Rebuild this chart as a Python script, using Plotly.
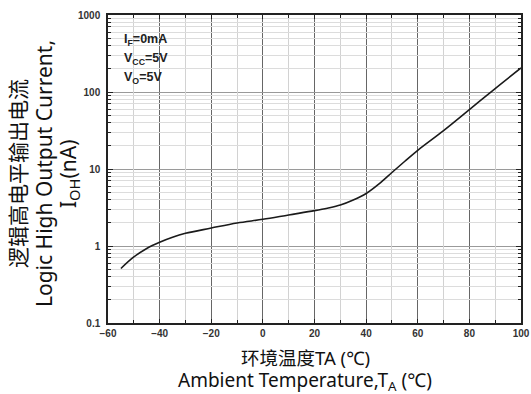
import plotly.graph_objects as go

temps = [-55, -50, -45, -40, -35, -30, -20, -10, 0, 10, 20, 25, 30, 35, 40, 45, 50, 55, 60, 70, 80, 90, 100]
ioh = [0.51, 0.72, 0.93, 1.12, 1.30, 1.46, 1.71, 1.99, 2.22, 2.53, 2.88, 3.1, 3.4, 3.95, 4.8, 6.4, 9.0, 12.6, 17.5, 31.5, 59, 111, 205]

x_ticks = [-60, -40, -20, 0, 20, 40, 60, 80, 100]
x_minor = [-50, -30, -10, 10, 30, 50, 70, 90]
y_ticks = [0.1, 1, 10, 100, 1000]
y_tick_text = ["0.1", "1", "10", "100", "1000"]
y_minor = [m * d for d in [0.1, 1, 10, 100] for m in range(2, 10)]

fig = go.Figure()
# helper trace that only brings the minor-grid axes into existence
fig.add_trace(go.Scatter(x=temps, y=ioh, xaxis="x2", yaxis="y2", mode="lines", opacity=0,
                         showlegend=False, hoverinfo="skip"))
fig.add_trace(go.Scatter(x=temps, y=ioh, mode="lines",
                         line=dict(color="#1a1a1a", width=1.6, shape="spline", smoothing=1.0),
                         showlegend=False, hoverinfo="skip"))

tickfont = dict(family="Liberation Sans, Arial", size=10, color="#333", weight="bold")
fig.update_layout(
    width=531, height=394,
    margin=dict(l=108, r=10, t=15, b=71),
    paper_bgcolor="white", plot_bgcolor="white",
    xaxis=dict(range=[-60, 100], tickmode="array", tickvals=x_ticks, ticks="inside", ticklen=4, tickcolor="#222",
               showline=True, linecolor="#222", linewidth=1.5, mirror="allticks", automargin=False,
               showgrid=True, gridcolor="#666", gridwidth=1, zeroline=False, tickfont=tickfont),
    yaxis=dict(type="log", range=[-1, 3], tickmode="array", tickvals=y_ticks, ticktext=y_tick_text,
               ticks="inside", ticklen=5, tickcolor="#222", ticklabelstandoff=4,
               showline=True, linecolor="#222", linewidth=1.5, mirror="allticks", automargin=False,
               showgrid=True, gridcolor="#9a9a9a", gridwidth=1, zeroline=False, tickfont=tickfont),
    xaxis2=dict(overlaying="x", range=[-60, 100], tickmode="array", tickvals=x_minor, showticklabels=False,
                ticks="inside", ticklen=3, tickcolor="#222", showline=False, mirror="allticks",
                showgrid=True, gridcolor="#d2d2d2", gridwidth=1, zeroline=False, automargin=False),
    yaxis2=dict(overlaying="y", type="log", range=[-1, 3], tickmode="array", tickvals=y_minor, showticklabels=False,
                ticks="inside", ticklen=3, tickcolor="#222", showline=False, mirror="allticks",
                showgrid=True, gridcolor="#dcdcdc", gridwidth=1, zeroline=False, automargin=False),
)

PL, PW, PB, PH = 108, 413, 323, 308
yfont_cn = dict(family="Noto Sans CJK SC, Noto Sans", size=21, color="#111")
yfont_en = dict(family="Noto Sans, Noto Sans CJK SC", size=21, color="#111")
ylines = [("逻辑高电平输出电流", yfont_cn, 17), ("Logic High Output Current,", yfont_en, 44),
          ("I<sub>OH</sub>(nA)", yfont_en, 69)]
for t, f, px in ylines:
    fig.add_annotation(text=t, xref="paper", yref="paper", x=(px - PL) / PW, y=(PB - 174) / PH,
                       xanchor="center", yanchor="middle", textangle=-90, showarrow=False, font=f, borderpad=0)
xfont_cn = dict(family="Noto Sans, Noto Sans CJK SC", size=18.5, color="#111")
xfont_en = dict(family="Noto Sans, Noto Sans CJK SC", size=19, color="#111")
xlines = [("环境温度TA (℃)", xfont_cn, 357), ("Ambient Temperature,T<sub>A</sub> (℃)", xfont_en, 381)]
for t, f, py in xlines:
    fig.add_annotation(text=t, xref="paper", yref="paper", x=(305 - PL) / PW, y=(PB - py) / PH,
                       xanchor="center", yanchor="middle", showarrow=False, font=f, borderpad=0)

afont = dict(family="Liberation Sans, Arial", size=12.5, color="#222", weight="bold")
conds = ["I<sub>F</sub>=0mA", "V<sub>CC</sub>=5V", "V<sub>O</sub>=5V"]
for i, t in enumerate(conds):
    fig.add_annotation(text=t, xref="paper", yref="paper", x=(122 - PL) / PW, y=(PB - (40 + 19 * i)) / PH,
                       xanchor="left", yanchor="middle", showarrow=False, font=afont)

fig.write_html("out.html", config={"displayModeBar": False},
               post_script="document.body.style.margin='0';document.body.style.overflow='hidden';")
